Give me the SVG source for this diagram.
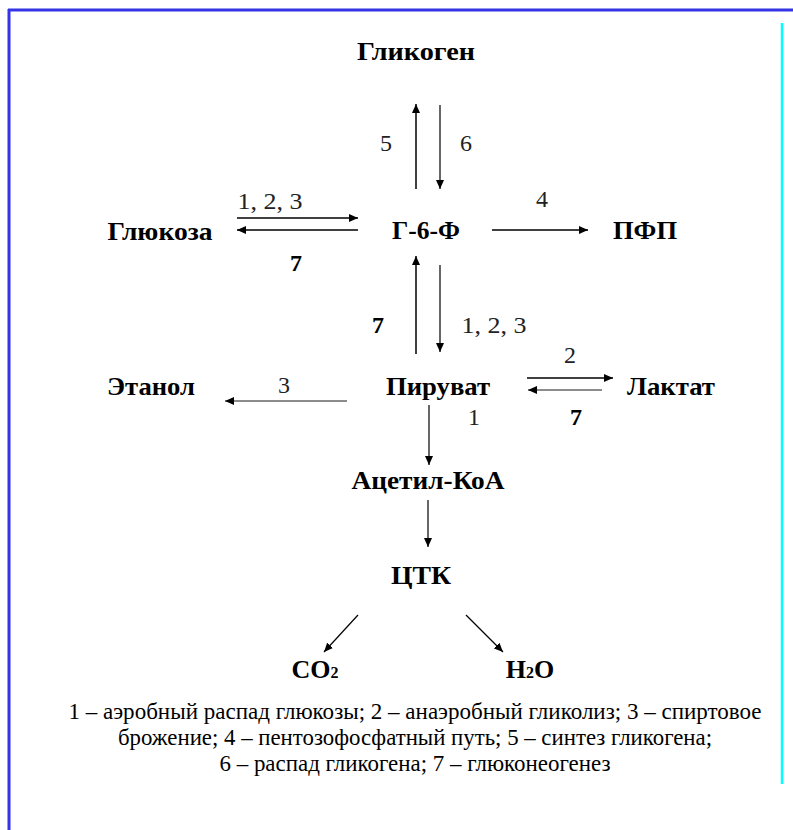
<svg xmlns="http://www.w3.org/2000/svg" width="793" height="830" viewBox="0 0 793 830">
<defs>
<style>
.node{font-family:"Liberation Serif","Times New Roman","DejaVu Serif",serif;font-weight:bold;font-size:26px;fill:#000;text-anchor:middle}
.lbl{font-family:"Liberation Serif","Times New Roman","DejaVu Serif",serif;font-size:24px;fill:#222;text-anchor:middle}
.lblb{font-family:"Liberation Serif","Times New Roman","DejaVu Serif",serif;font-size:24px;font-weight:bold;fill:#000;text-anchor:middle}
.leg{font-family:"Liberation Serif","Times New Roman","DejaVu Serif",serif;font-size:23px;fill:#000;text-anchor:middle}
.c{stroke:#000;stroke-width:1.5;fill:none}
.g{stroke:#666;stroke-width:1.3;fill:none}
</style>
<marker id="ah" markerUnits="userSpaceOnUse" markerWidth="10" markerHeight="8" refX="9" refY="4" orient="auto">
<path d="M0,0 L9,4 L0,8 Z" fill="#000"/>
</marker>
</defs>
<rect x="0" y="0" width="793" height="830" fill="#fff"/>
<g id="frame">
<line x1="8" y1="10" x2="793" y2="10" stroke="#3434e6" stroke-width="3"/>
<line x1="9" y1="9" x2="9" y2="830" stroke="#3434e6" stroke-width="3"/>
<line x1="782" y1="23" x2="782" y2="784" stroke="#00ffff" stroke-width="2.5"/>
</g>
<g id="connectors">
<line class="c" x1="416" y1="189" x2="416" y2="104" marker-end="url(#ah)"/>
<line class="c" x1="440" y1="105" x2="440" y2="189" marker-end="url(#ah)" style="stroke-width:1.2"/>
<line class="c" x1="237" y1="218" x2="358" y2="218" marker-end="url(#ah)"/>
<line class="c" x1="358" y1="230" x2="237" y2="230" marker-end="url(#ah)"/>
<line class="c" x1="492" y1="230" x2="588" y2="230" marker-end="url(#ah)"/>
<line class="c" x1="416" y1="354" x2="416" y2="256" marker-end="url(#ah)"/>
<line class="c" x1="440" y1="265" x2="440" y2="352" marker-end="url(#ah)" style="stroke-width:1.2"/>
<line class="c" x1="527" y1="378" x2="613" y2="378" marker-end="url(#ah)"/>
<line class="g" x1="602" y1="390" x2="528" y2="390" marker-end="url(#ah)"/>
<line class="g" x1="347" y1="401" x2="225" y2="401" marker-end="url(#ah)"/>
<line class="c" x1="429" y1="405" x2="429" y2="465" marker-end="url(#ah)" style="stroke-width:1.2"/>
<line class="c" x1="428" y1="500" x2="428" y2="547" marker-end="url(#ah)" style="stroke-width:1.2"/>
<line class="c" x1="358" y1="615" x2="324" y2="652" marker-end="url(#ah)" style="stroke-width:1.2"/>
<line class="c" x1="466" y1="615" x2="503" y2="652" marker-end="url(#ah)" style="stroke-width:1.2"/>
</g>
<g id="edge-labels">
<text class="lbl" x="386" y="151">5</text>
<text class="lbl" x="466" y="151">6</text>
<text class="lbl" x="270" y="209" textLength="65" lengthAdjust="spacingAndGlyphs">1, 2, 3</text>
<text class="lblb" x="296" y="271">7</text>
<text class="lbl" x="542" y="207">4</text>
<text class="lblb" x="378" y="333">7</text>
<text class="lbl" x="494" y="333" textLength="65" lengthAdjust="spacingAndGlyphs">1, 2, 3</text>
<text class="lbl" x="570" y="363">2</text>
<text class="lbl" x="284" y="393">3</text>
<text class="lbl" x="474" y="425">1</text>
<text class="lblb" x="576" y="425">7</text>
</g>
<g id="glycogen"><text class="node" x="416" y="60" textLength="118" lengthAdjust="spacingAndGlyphs">Гликоген</text></g>
<g id="glucose"><text class="node" x="160" y="240" textLength="105" lengthAdjust="spacingAndGlyphs">Глюкоза</text></g>
<g id="g6p"><text class="node" x="426" y="239" textLength="68" lengthAdjust="spacingAndGlyphs">Г-6-Ф</text></g>
<g id="ppp"><text class="node" x="645" y="239" textLength="64" lengthAdjust="spacingAndGlyphs">ПФП</text></g>
<g id="ethanol"><text class="node" x="151" y="395" textLength="88" lengthAdjust="spacingAndGlyphs">Этанол</text></g>
<g id="pyruvate"><text class="node" x="438" y="395" textLength="104" lengthAdjust="spacingAndGlyphs">Пируват</text></g>
<g id="lactate"><text class="node" x="671" y="395" textLength="88" lengthAdjust="spacingAndGlyphs">Лактат</text></g>
<g id="acetylcoa"><text class="node" x="428" y="489" textLength="153" lengthAdjust="spacingAndGlyphs">Ацетил-КоА</text></g>
<g id="tca"><text class="node" x="421" y="584" textLength="60" lengthAdjust="spacingAndGlyphs">ЦТК</text></g>
<g id="co2"><text class="node" x="315" y="678">CO<tspan font-size="16">2</tspan></text></g>
<g id="h2o"><text class="node" x="530" y="678">H<tspan font-size="16">2</tspan>O</text></g>
<g id="legend">
<text class="leg" x="415" y="719" textLength="693" lengthAdjust="spacingAndGlyphs">1 – аэробный распад глюкозы; 2 – анаэробный гликолиз; 3 – спиртовое</text>
<text class="leg" x="415" y="745" textLength="594" lengthAdjust="spacingAndGlyphs">брожение; 4 – пентозофосфатный путь; 5 – синтез гликогена;</text>
<text class="leg" x="415" y="771" textLength="391" lengthAdjust="spacingAndGlyphs">6 – распад гликогена; 7 – глюконеогенез</text>
</g>
</svg>
